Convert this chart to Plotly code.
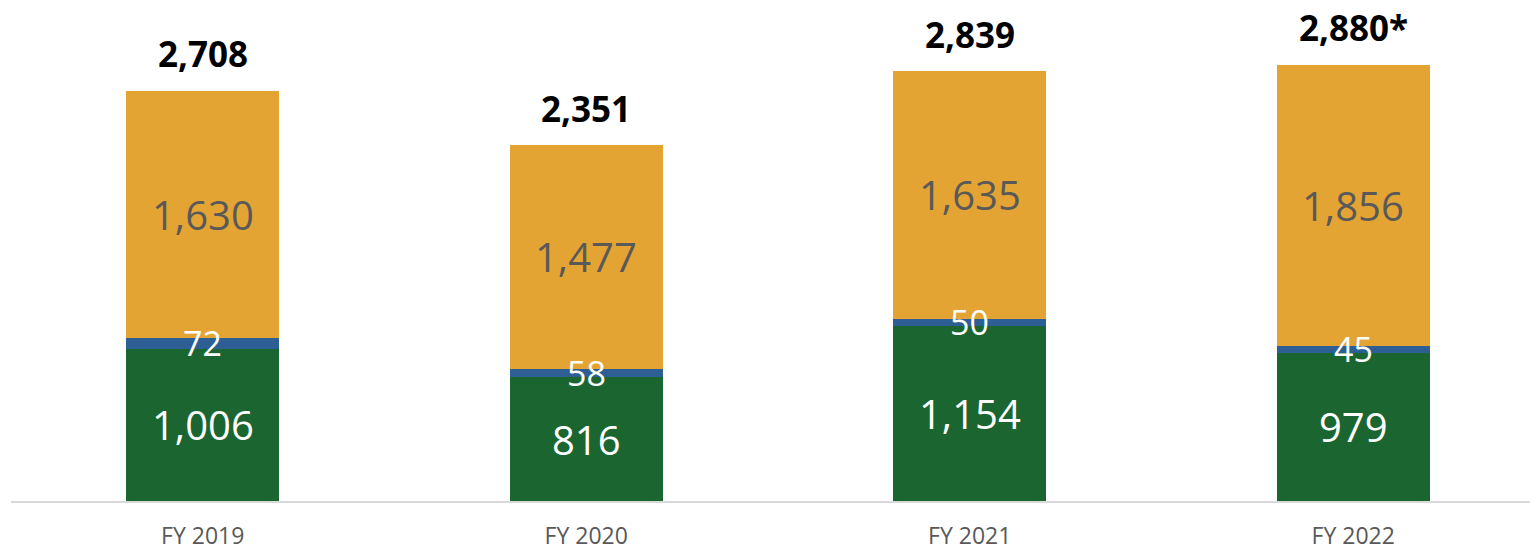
import plotly.graph_objects as go

categories = ["FY 2019", "FY 2020", "FY 2021", "FY 2022"]
green_vals = [1006, 816, 1154, 979]
blue_vals = [72, 58, 50, 45]
orange_vals = [1630, 1477, 1635, 1856]
total_suffix = ["", "", "", "*"]

GREEN = "#1B6531"
BLUE = "#2D5F94"
ORANGE = "#E4A433"
LABEL_FONT = "Open Sans"

fig = go.Figure()
for vals, col in [(green_vals, GREEN), (blue_vals, BLUE), (orange_vals, ORANGE)]:
    fig.add_trace(go.Bar(x=categories, y=vals, marker=dict(color=col, line=dict(width=0)),
                         width=0.4, hoverinfo="skip", showlegend=False))

annotations = []
for i, c in enumerate(categories):
    g, b, o = green_vals[i], blue_vals[i], orange_vals[i]
    annotations.append(dict(x=c, y=g / 2, text=f"{g:,}", showarrow=False,
                            font=dict(family=LABEL_FONT, size=40, color="white")))
    annotations.append(dict(x=c, y=g + b / 2, text=f"{b:,}", showarrow=False,
                            font=dict(family=LABEL_FONT, size=34, color="white")))
    annotations.append(dict(x=c, y=g + b + o / 2, text=f"{o:,}", showarrow=False,
                            font=dict(family=LABEL_FONT, size=40, color="#595959")))
    total = g + b + o
    annotations.append(dict(x=c, y=total, text=f"<b>{total:,}{total_suffix[i]}</b>", showarrow=False,
                            yanchor="middle", yshift=37,
                            font=dict(family=LABEL_FONT, size=35, color="black")))

fig.update_layout(
    barmode="stack",
    width=1538, height=553,
    margin=dict(l=3, r=1, t=0, b=60),
    paper_bgcolor="white", plot_bgcolor="white",
    annotations=annotations,
    xaxis=dict(showline=True, linecolor="#D9D9D9", linewidth=1.5, showgrid=False,
               ticks="", ticklabelstandoff=14,
               tickfont=dict(family=LABEL_FONT, size=23, color="#595959"),
               range=[-0.5, 3.5]),
    yaxis=dict(visible=False, range=[0, 3256], showgrid=False, zeroline=False),
)

fig.write_html("out.html")
